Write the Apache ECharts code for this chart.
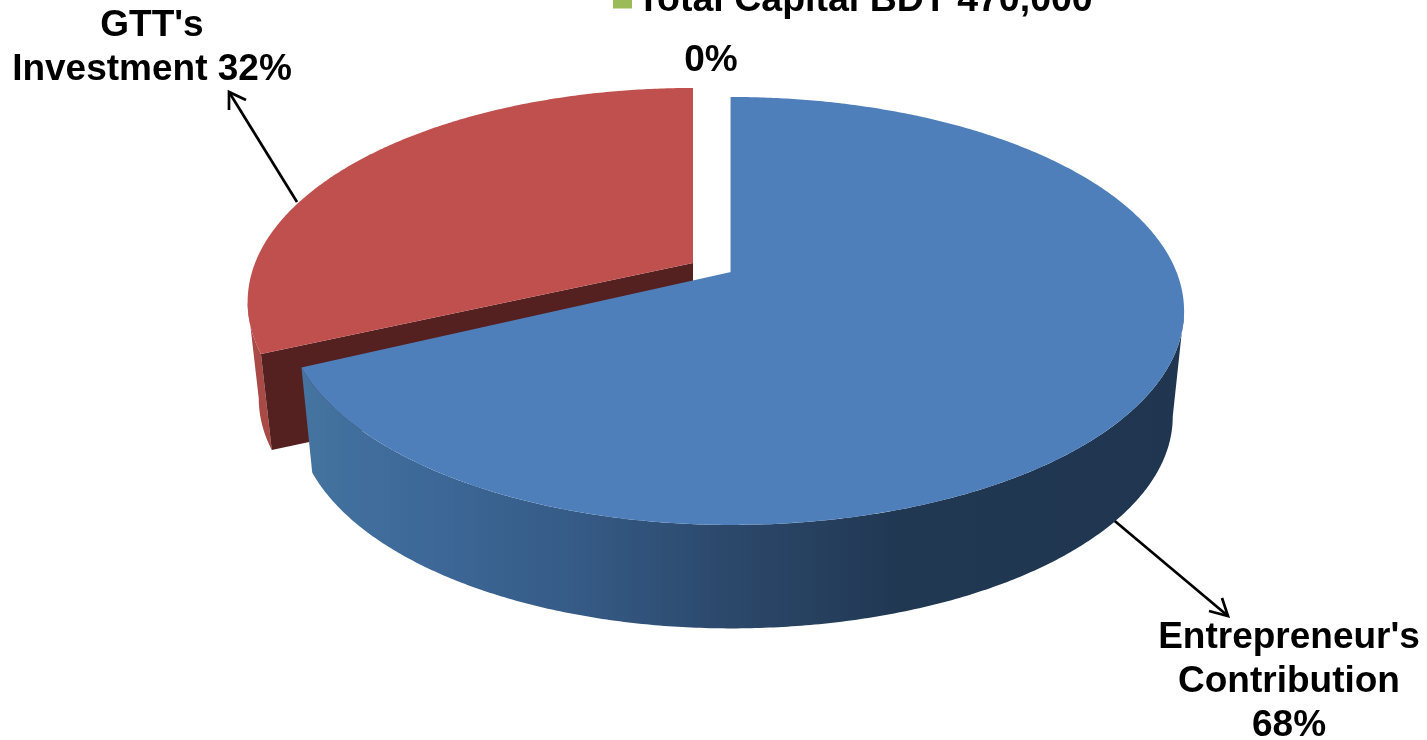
<!DOCTYPE html>
<html><head><meta charset="utf-8">
<style>html,body{margin:0;padding:0;background:#fff;overflow:hidden}#c{width:1427px;height:740px}</style>
<script src="https://cdn.jsdelivr.net/npm/echarts@6/dist/echarts.min.js"></script>
</head><body><div id="c"></div>
<script>
const categories = ["Entrepreneur's Contribution", "GTT's Investment", "Total Capital BDT 470,000"];
const values = [68, 32, 0];
const labelLines = [["Entrepreneur's", "Contribution"], ["GTT's", "Investment"], []];
const total = values.reduce((a, b) => a + b, 0);

// projection of the tilted disc
const P = {cx: 731, A: 445.5, leftK: 0.983, B: 206.9, p: 0.182};
const TOP = {y: 272, sx: 1, sy: 1};
const BOT = {y: 378, sx: 0.975, sy: 0.99};
const OFFSET = [{dx: 0, dy: 0, dyB: 0, inset: 0}, {dx: -38, dy: -9, dyB: -18, inset: 1.2}, {dx: 0, dy: 0, dyB: 0, inset: 0}];
const SIL = Math.acos(-P.p) * 180 / Math.PI;   // angle of the disc's silhouette

function pt(deg, plane, off) {
  const t = deg * Math.PI / 180, s = Math.sin(t), c = Math.cos(t), w = 1 + P.p * c;
  const k = s < 0 ? P.leftK : 1;
  const dy = plane === BOT ? off.dyB : off.dy;
  return [P.cx + off.dx + k * plane.sx * P.A * s / w, plane.y + dy - plane.sy * P.B * c / w];
}
function arc(a, b, plane, off) {
  const n = Math.max(2, Math.ceil(Math.abs(b - a) * 2)), out = [];
  for (let i = 0; i <= n; i++) out.push(pt(a + (b - a) * i / n, plane, off));
  return out;
}
function apex(plane, off) { return [P.cx + off.dx, plane.y + (plane === BOT ? off.dyB : off.dy)]; }
function range(i) {
  let s = 0;
  for (let j = 0; j < i; j++) s += values[j];
  return [s / total * 360 + OFFSET[i].inset, (s + values[i]) / total * 360];
}
const poly = (points, fill) => ({type: 'polygon', shape: {points}, style: {fill}, silent: true});

const blueSide = {type: 'linear', global: true, x: 300, y: 0, x2: 1180, y2: 0, colorStops: [
  {offset: 0, color: '#44749f'}, {offset: 0.12, color: '#3e6a9a'}, {offset: 0.3, color: '#365c88'},
  {offset: 0.5, color: '#2b4769'}, {offset: 0.68, color: '#213853'}, {offset: 1, color: '#1f3550'}]};

function renderBlue(params, api) {
  const [a, b] = range(0), o = OFFSET[0];
  const side = arc(SIL, b, TOP, o).concat(arc(b, SIL, BOT, o));
  const top = [apex(TOP, o)].concat(arc(a, b, TOP, o));
  return {type: 'group', children: [
    poly(side, blueSide),
    {type: 'line', shape: {x1: apex(TOP, o)[0], y1: apex(TOP, o)[1], x2: pt(0, TOP, o)[0], y2: pt(0, TOP, o)[1]},
     style: {stroke: '#2c4a6e', lineWidth: 1.2, opacity: 0.55}, silent: true},
    poly(top, '#4e7fbb')
  ]};
}
function renderRed(params, api) {
  const [a, b] = range(1), o = OFFSET[1];
  const rim = arc(a, 360 - SIL, TOP, o).concat(arc(360 - SIL, a, BOT, o));
  const wall = [apex(TOP, o), pt(a, TOP, o), pt(a, BOT, o), apex(BOT, o)];
  const top = [apex(TOP, o)].concat(arc(a, b, TOP, o));
  return {type: 'group', children: [poly(rim, '#a94a47'), poly(wall, '#552120'), poly(top, '#c0504d')]};
}
function renderNone() { return {type: 'group', children: []}; }

const font = {fontFamily: '"Liberation Sans", Arial, sans-serif', fontWeight: 'bold', fontSize: 37, fill: '#000', textAlign: 'center', textVerticalAlign: 'top', lineHeight: 44};
const txt = (x, y, text) => ({type: 'text', x, y, silent: true, style: Object.assign({text}, font)});
const arrow = (pts) => ({type: 'polyline', silent: true, shape: {points: pts}, style: {stroke: '#000', lineWidth: 2.7, fill: null}});

const chart = echarts.init(document.getElementById('c'), null, {renderer: 'canvas'});
chart.setOption({
  animation: false,
  backgroundColor: '#fff',
  tooltip: {show: false},
  legend: {
    data: [{name: categories[2], icon: 'rect'}],
    left: 613, top: -18, itemWidth: 19, itemHeight: 15, itemGap: 6, padding: 0, selectedMode: false,
    textStyle: {fontFamily: font.fontFamily, fontWeight: 'bold', fontSize: 37.5, color: '#000', padding: [14, 0, 0, 0]}
  },
  series: [
    {type: 'custom', name: categories[1], coordinateSystem: 'none', data: [values[1]], renderItem: renderRed, z: 1, itemStyle: {color: '#c0504d'}},
    {type: 'custom', name: categories[0], coordinateSystem: 'none', data: [values[0]], renderItem: renderBlue, z: 2, itemStyle: {color: '#4e7fbb'}},
    {type: 'custom', name: categories[2], coordinateSystem: 'none', data: [values[2]], renderItem: renderNone, z: 3, itemStyle: {color: '#9bbb59'}}
  ],
  graphic: [
    txt(152, 4, labelLines[1][0] + "\n" + labelLines[1][1] + " " + values[1] + "%"),
    txt(711, 39, values[2] + "%"),
    txt(1289, 616, labelLines[0][0] + "\n" + labelLines[0][1] + "\n" + values[0] + "%"),
    arrow([[297, 202], [229, 92]]),
    arrow([[229, 110], [229, 92], [246, 100]]),
    arrow([[1110, 517], [1228, 616]]),
    arrow([[1222, 598], [1228, 616], [1209, 611]])
  ]
});
</script></body></html>
